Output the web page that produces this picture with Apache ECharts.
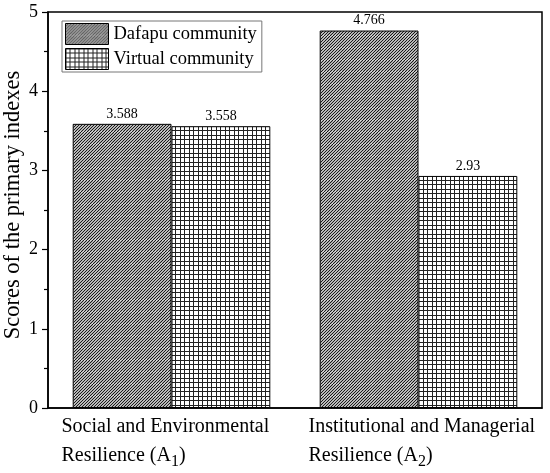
<!DOCTYPE html>
<html>
<head>
<meta charset="utf-8">
<script src="https://cdn.jsdelivr.net/npm/echarts@6/dist/echarts.min.js"></script>
<style>
html,body{margin:0;padding:0;background:#fff;}
#chart{width:550px;height:473px;}
</style>
</head>
<body>
<div id="chart"></div>
<script>
// ---- data ----
const categories = ['A1', 'A2'];
const labelLine1 = ['Social and Environmental', 'Institutional and Managerial'];
const labelLine2 = ['Resilience (A', 'Resilience (A'];
const labelSub = ['1', '2'];
const seriesNames = ['Dafapu community', 'Virtual community'];
const dafapuValues = [3.588, 4.766];
const virtualValues = [3.558, 2.93];
const yTicks = [0, 1, 2, 3, 4, 5];
const yAxisTitle = 'Scores of the primary indexes';

// ---- patterns ----
function makeDiag() {
  const c = document.createElement('canvas');
  c.width = 12; c.height = 12;
  const ctx = c.getContext('2d');
  ctx.fillStyle = '#fff';
  ctx.fillRect(0, 0, 12, 12);
  ctx.strokeStyle = '#111';
  ctx.lineWidth = 1.1;
  ctx.beginPath();
  for (let i = -12; i <= 24; i += 3) {
    ctx.moveTo(i, 12);
    ctx.lineTo(i + 12, 0);
  }
  ctx.stroke();
  return c;
}
function makeGrid() {
  const c = document.createElement('canvas');
  c.width = 9; c.height = 9;
  const ctx = c.getContext('2d');
  ctx.fillStyle = '#fff';
  ctx.fillRect(0, 0, 9, 9);
  ctx.fillStyle = '#222';
  ctx.fillRect(0, 0, 1, 9);
  ctx.fillRect(4, 0, 1, 9);
  ctx.fillRect(0, 0, 9, 1);
  ctx.fillRect(0, 4, 9, 1);
  return c;
}
const diagPattern = { image: makeDiag(), repeat: 'repeat' };
const gridPattern = { image: makeGrid(), repeat: 'repeat' };

const FONT = 'Liberation Serif';
const chart = echarts.init(document.getElementById('chart'), null, { renderer: 'canvas' });

const option = {
  backgroundColor: '#fff',
  animation: false,
  grid: {
    left: 48, right: 8, top: 12, bottom: 65,
    show: true, borderColor: '#000', borderWidth: 1.5,
    backgroundColor: 'transparent',
    containLabel: false,
    outerBoundsMode: 'none'
  },
  legend: {
    orient: 'vertical',
    left: 62, top: 21,
    padding: [2, 5, 2, 3],
    itemGap: 3,
    itemWidth: 43, itemHeight: 21,
    icon: 'rect',
    borderColor: '#777', borderWidth: 1,
    backgroundColor: '#fff',
    textStyle: { fontFamily: FONT, fontSize: 18.5, color: '#000', lineHeight: 21 },
    itemStyle: { borderColor: '#000', borderWidth: 1 },
    data: seriesNames
  },
  xAxis: {
    type: 'category',
    data: categories,
    axisLine: { show: true, lineStyle: { color: '#000', width: 1.5 } },
    axisTick: { show: false },
    splitLine: { show: false },
    axisLabel: {
      interval: 0,
      margin: 4,
      width: 220,
      align: 'center',
      color: '#000',
      formatter: function (v, i) {
        return '{a|' + labelLine1[i] + '}\n{a|' + labelLine2[i] + '}{s|' + labelSub[i] + '}{a|)}';
      },
      rich: {
        a: { fontFamily: FONT, fontSize: 20, lineHeight: 29, color: '#000', align: 'left' },
        s: { fontFamily: FONT, fontSize: 16, lineHeight: 19, color: '#000', align: 'left', verticalAlign: 'bottom' }
      }
    }
  },
  yAxis: {
    type: 'value',
    min: yTicks[0], max: yTicks[yTicks.length - 1], interval: 1,
    name: yAxisTitle,
    nameLocation: 'middle',
    nameGap: 23,
    nameMoveOverlap: false,
    nameTextStyle: { fontFamily: FONT, fontSize: 22.5, color: '#000', padding: [0, 0, 0, 10] },
    axisLine: { show: true, lineStyle: { color: '#000', width: 1.5 } },
    axisTick: { show: true, inside: false, length: 6, lineStyle: { color: '#000', width: 1.2 } },
    minorTick: { show: true, splitNumber: 2, length: 4, lineStyle: { color: '#000', width: 1.2 } },
    splitLine: { show: false },
    minorSplitLine: { show: false },
    axisLabel: { fontFamily: FONT, fontSize: 18, color: '#000', margin: 10 }
  },
  series: [
    {
      name: seriesNames[0],
      type: 'bar',
      data: dafapuValues,
      barGap: '0%',
      barCategoryGap: '20%',
      itemStyle: { color: diagPattern, borderColor: '#000', borderWidth: 1 },
      label: { show: true, position: 'top', distance: 3, fontFamily: FONT, fontSize: 14, color: '#000' },
      emphasis: { disabled: true }
    },
    {
      name: seriesNames[1],
      type: 'bar',
      data: virtualValues,
      barGap: '0%',
      barCategoryGap: '20%',
      itemStyle: { color: gridPattern, borderColor: '#000', borderWidth: 1 },
      label: { show: true, position: 'top', distance: 3, fontFamily: FONT, fontSize: 14, color: '#000' },
      emphasis: { disabled: true }
    }
  ]
};
chart.setOption(option);
</script>
</body>
</html>
